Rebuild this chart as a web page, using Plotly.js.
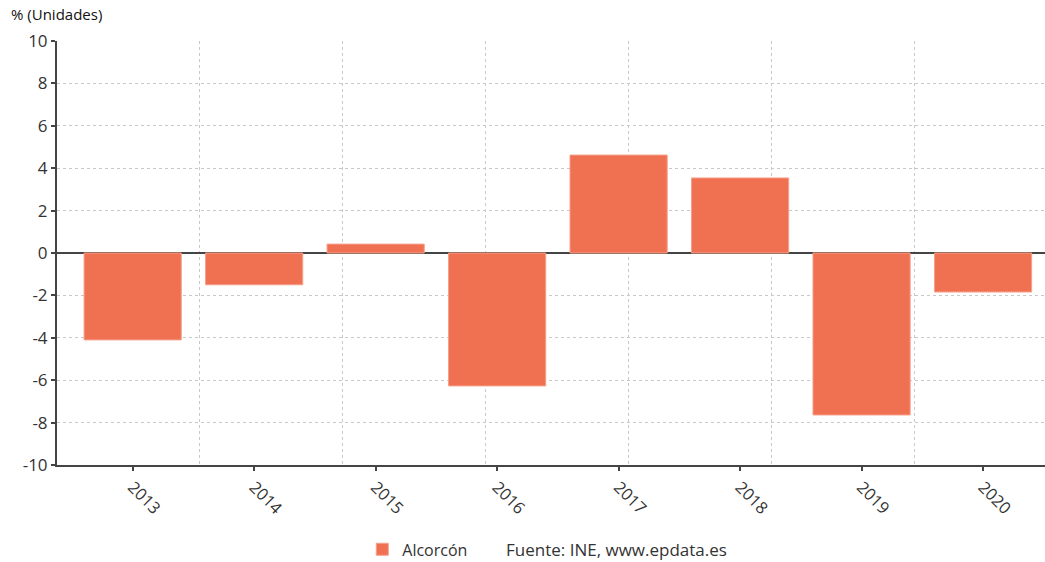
<!DOCTYPE html>
<html>
<head>
<meta charset="utf-8">
<script src="https://cdn.plot.ly/plotly-3.0.1.min.js"></script>
<style>html,body{margin:0;padding:0;background:#fff;}#chart{width:1045px;height:562px;}</style>
</head>
<body>
<div id="chart"></div>
<script>
const years = ['2013','2014','2015','2016','2017','2018','2019','2020'];
const values = [-4.1, -1.5, 0.42, -6.27, 4.62, 3.54, -7.64, -1.84];
const yTickVals = [-10, -8, -6, -4, -2, 0, 2, 4, 6, 8, 10];
const yTickText = ['-10', '-8', '-6', '-4', '-2', '0', '2', '4', '6', '8', '10'];
const seriesName = 'Alcorcón';
const yTitle = '% (Unidades)';
const sourceText = 'Fuente: INE, www.epdata.es';

const fam = '"Open Sans", "Noto Sans", sans-serif';

const traces = [
  {
    type: 'bar', x: years, y: values, name: seriesName,
    marker: {color: '#F07052', line: {color: '#F5A08A', width: 1}},
    width: 0.8, hoverinfo: 'x+y'
  },
  {
    type: 'scatter', x: [0], y: [0], xaxis: 'x2', mode: 'markers',
    marker: {opacity: 0}, showlegend: false, hoverinfo: 'skip'
  }
];

const layout = {
  width: 1045, height: 562,
  margin: {l: 57, r: 0, t: 41, b: 97, autoexpand: false},
  paper_bgcolor: '#fff', plot_bgcolor: '#fff',
  font: {family: fam, size: 15, color: '#333'},
  showlegend: true,
  legend: {orientation: 'h', x: 0.309, y: -0.199, xanchor: 'left', yanchor: 'middle',
           font: {family: fam, size: 16, color: '#333'}, itemwidth: 30, borderwidth: 0},
  xaxis: {
    type: 'category', range: [-0.623, 7.51], automargin: false,
    showgrid: false, zeroline: false,
    showline: true, linecolor: '#444', linewidth: 2,
    ticks: 'outside', ticklen: 4, tickcolor: '#444', tickwidth: 2,
    tickangle: 45, tickfont: {family: fam, size: 16.5, color: '#333'}
  },
  xaxis2: {
    overlaying: 'x', anchor: 'y', range: [0, 6.914], dtick: 1, tick0: 0,
    showgrid: true, gridcolor: '#c8c8c8', griddash: 'dot', gridwidth: 1,
    showticklabels: false, ticks: '', zeroline: false, showline: false
  },
  yaxis: {
    range: [-10, 10], tickmode: 'array', tickvals: yTickVals, ticktext: yTickText, automargin: false,
    showgrid: true, gridcolor: '#c8c8c8', griddash: 'dot', gridwidth: 1,
    zeroline: true, zerolinecolor: '#444', zerolinewidth: 2,
    showline: true, linecolor: '#444', linewidth: 2,
    ticks: 'outside', ticklen: 4, tickcolor: '#444', tickwidth: 2,
    tickfont: {family: fam, size: 17, color: '#333'}
  },
  annotations: [
    {text: yTitle, xref: 'paper', yref: 'paper', x: -0.049, y: 1.035, xanchor: 'left', yanchor: 'bottom',
     showarrow: false, font: {family: fam, size: 15, color: '#111'}},
    {text: sourceText, xref: 'paper', yref: 'paper', x: 0.4534, y: -0.199, xanchor: 'left', yanchor: 'middle',
     showarrow: false, borderpad: 0, font: {family: fam, size: 17, color: '#333'}}
  ]
};

Plotly.newPlot('chart', traces, layout, {displayModeBar: false, staticPlot: true});
</script>
</body>
</html>
